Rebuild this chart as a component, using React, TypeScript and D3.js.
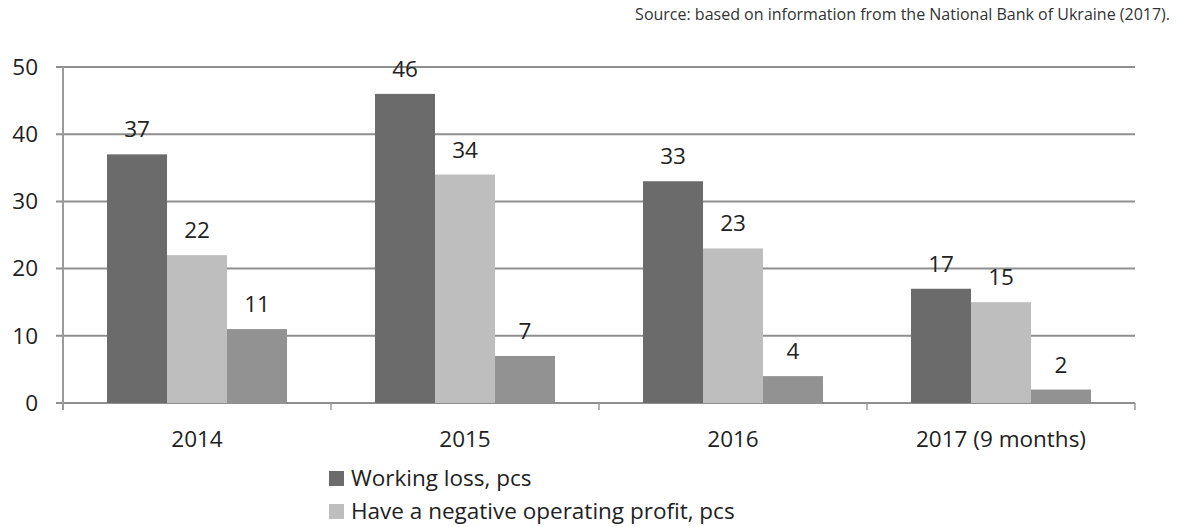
import React, { useEffect, useRef } from "react";
import * as d3 from "d3";

const categories = ["2014", "2015", "2016", "2017 (9 months)"];
const workingLoss = [37, 46, 33, 17];
const negativeProfit = [22, 34, 23, 15];
const thirdSeries = [11, 7, 4, 2];
const yTicks = [0, 10, 20, 30, 40, 50];
const legendLabels = ["Working loss, pcs", "Have a negative operating profit, pcs"];
const colors = ["#6b6b6b", "#bebebe", "#929292"];

const W = 1182;
const H = 527;
const FONT = "'Open Sans', Lato, sans-serif";
const FS = 22.5;

const drawChart = (node: SVGSVGElement) => {
  const svg = d3.select(node);
  svg.selectAll("*").remove();

  const left = 63, right = 1135, top = 67, bottom = 403;

  var x = d3.scaleBand().domain(categories).range([left, right]);
  var series = [0, 1, 2];
  var xInner = d3
    .scaleBand<number>()
    .domain(series)
    .range([0, x.bandwidth()])
    .paddingOuter(0.5 * 88 / 60)
    .paddingInner(0);
  var y = d3.scaleLinear().domain([0, 50]).range([bottom, top]);

  // source note
  svg
    .append("text")
    .attr("x", 1170)
    .attr("y", 20)
    .attr("text-anchor", "end")
    .attr("font-family", FONT)
    .attr("font-size", 16)
    .attr("fill", "#333")
    .text("Source: based on information from the National Bank of Ukraine (2017).");

  // gridlines
  svg
    .append("g")
    .selectAll("line")
    .data(yTicks)
    .enter()
    .append("line")
    .attr("x1", left - 7)
    .attr("x2", right)
    .attr("y1", (d) => y(d))
    .attr("y2", (d) => y(d))
    .attr("stroke", "#8f8f8f")
    .attr("stroke-width", 2);

  // y axis line
  svg
    .append("line")
    .attr("x1", left)
    .attr("x2", left)
    .attr("y1", top)
    .attr("y2", bottom + 7)
    .attr("stroke", "#9a9a9a")
    .attr("stroke-width", 2);

  // y labels
  svg
    .append("g")
    .selectAll("text")
    .data(yTicks)
    .enter()
    .append("text")
    .attr("x", 38)
    .attr("y", (d) => y(d))
    .attr("dy", "0.35em")
    .attr("text-anchor", "end")
    .attr("font-family", FONT)
    .attr("font-size", FS)
    .attr("fill", "#222")
    .text((d) => d);

  // category ticks
  var bounds = categories.map((c) => x(c) as number).concat([right]);
  svg
    .append("g")
    .selectAll("line")
    .data(bounds)
    .enter()
    .append("line")
    .attr("x1", (d) => d)
    .attr("x2", (d) => d)
    .attr("y1", bottom)
    .attr("y2", bottom + 7)
    .attr("stroke", "#9a9a9a")
    .attr("stroke-width", 1.5);

  // bars
  var rows = categories.map((c, i) => ({
    cat: c,
    values: [workingLoss[i], negativeProfit[i], thirdSeries[i]],
  }));

  var groups = svg
    .append("g")
    .selectAll("g")
    .data(rows)
    .enter()
    .append("g")
    .attr("transform", (d) => "translate(" + x(d.cat) + ",0)");

  groups
    .selectAll("rect")
    .data((d) => d.values)
    .enter()
    .append("rect")
    .attr("x", (d, j) => xInner(j) as number)
    .attr("width", xInner.bandwidth())
    .attr("y", (d) => y(d))
    .attr("height", (d) => y(0) - y(d))
    .attr("fill", (d, j) => colors[j]);

  groups
    .selectAll("text")
    .data((d) => d.values)
    .enter()
    .append("text")
    .attr("x", (d, j) => (xInner(j) as number) + xInner.bandwidth() / 2)
    .attr("y", (d) => y(d) - 17)
    .attr("text-anchor", "middle")
    .attr("font-family", FONT)
    .attr("font-size", FS)
    .attr("fill", "#222")
    .text((d) => d);

  // x labels
  svg
    .append("g")
    .selectAll("text")
    .data(categories)
    .enter()
    .append("text")
    .attr("x", (d) => (x(d) as number) + x.bandwidth() / 2)
    .attr("y", 447)
    .attr("text-anchor", "middle")
    .attr("font-family", FONT)
    .attr("font-size", FS)
    .attr("fill", "#222")
    .text((d) => d);

  // legend
  var legend = svg
    .append("g")
    .selectAll("g")
    .data(legendLabels)
    .enter()
    .append("g")
    .attr("transform", (d, i) => "translate(329," + (470 + i * 33) + ")");

  legend
    .append("rect")
    .attr("y", 1)
    .attr("width", 15)
    .attr("height", 15)
    .attr("fill", (d, i) => colors[i]);

  legend
    .append("text")
    .attr("x", 22)
    .attr("y", 16)
    .attr("font-family", FONT)
    .attr("font-size", FS)
    .attr("fill", "#222")
    .text((d) => d);
};

const App = () => {
  const ref = useRef<SVGSVGElement>(null);
  useEffect(() => {
    document.body.style.margin = "0";
    if (ref.current) drawChart(ref.current);
  });
  return (
    <svg
      ref={ref}
      width={W}
      height={H}
      style={{ display: "block", background: "#fff", overflow: "hidden" }}
    />
  );
};

export default App;
